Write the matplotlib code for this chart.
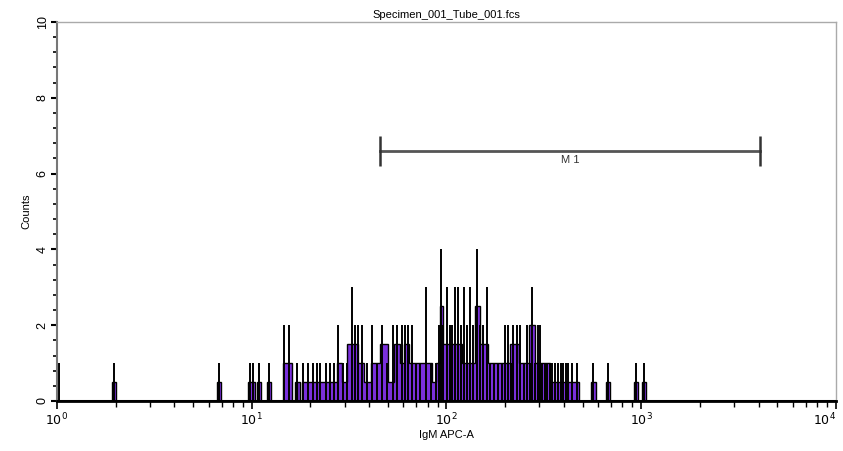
import numpy as np
import matplotlib
matplotlib.use('Agg')
import matplotlib.pyplot as plt
from matplotlib.ticker import LogLocator, NullFormatter, MultipleLocator

plt.rcParams['font.family'] = ['Liberation Sans', 'DejaVu Sans']

# channel numbers (1024 channels over 4 decades) and counts per channel
spike_ch = [0, 3, 75, 213, 254, 258, 266, 279, 298, 305, 315, 323, 330, 337, 342,
            346, 354, 359, 364, 369, 376, 381, 388, 392, 396, 401, 408, 414, 421,
            427, 434, 442, 447, 454, 457, 461, 467, 472, 477, 485, 492, 498, 502,
            505, 507, 513, 517, 519, 523, 527, 531, 535, 539, 543, 547, 552, 556,
            560, 565, 569, 574, 580, 585, 589, 593, 597, 599, 605, 609, 614, 618,
            622, 624, 628, 632, 635, 638, 641, 644, 648, 651, 655, 659, 662, 665,
            669, 672, 677, 684, 705, 724, 761, 772]
spike_counts = [2, 1, 1, 1, 1, 1, 1, 1, 2, 2, 1, 1, 1, 1, 1,
                1, 1, 1, 1, 2, 1, 1, 3, 2, 2, 2, 1, 2, 1,
                2, 1, 2, 2, 2, 2, 2, 2, 1, 1, 3, 1, 1, 2,
                4, 2, 3, 2, 2, 3, 3, 2, 3, 2, 3, 2, 4, 2,
                2, 3, 1, 1, 1, 1, 2, 2, 1, 2, 2, 2, 1, 2,
                1, 3, 1, 2, 2, 1, 1, 1, 1, 1, 1, 1, 1, 1,
                1, 1, 1, 1, 1, 1, 1, 1]

# smoothed (filled) histogram: channel start, channel end, level
fill_start = [72, 210, 251, 263, 276, 297, 313, 316, 322, 368, 375, 381, 396, 404,
              413, 425, 435, 443, 451, 456, 463, 493, 498, 503, 507, 519, 532, 549,
              556, 567, 596, 607, 620, 628, 635, 648, 702, 722, 758, 769]
fill_end = [78, 216, 260, 268, 281, 309, 315, 320, 368, 375, 381, 396, 404, 413,
            425, 435, 443, 451, 456, 463, 493, 498, 503, 507, 519, 532, 549, 556,
            567, 596, 607, 620, 628, 635, 648, 686, 708, 727, 764, 774]
fill_level = [0.5, 0.5, 0.5, 0.5, 0.5, 1.0, 0.5, 0.5, 0.5, 1.0, 0.5, 1.5, 1.0, 0.5,
              1.0, 1.5, 0.5, 1.5, 1.0, 1.5, 1.0, 0.5, 1.0, 2.5, 1.5, 1.5, 1.0, 2.5,
              1.5, 1.0, 1.5, 1.0, 2.0, 1.0, 1.0, 0.5, 0.5, 0.5, 0.5, 0.5]

decades = [1, 10, 100, 1000, 10000]
decade_labels = ['$10^{0}$', '$10^{1}$', '$10^{2}$', '$10^{3}$', '$10^{4}$']

marker_ch = [425, 924]
marker_y = 6.6
marker_label = 'M 1'


def ch_to_val(ch):
    return 10 ** (np.asarray(ch, dtype=float) / 256.0)


fig = plt.figure(figsize=(8.43, 4.51), dpi=100)
ax = fig.add_axes([0.0676, 0.1109, 0.9241, 0.8403])

# build one step outline for the filled histogram (groups of touching segments)
purple = '#7a30dc'
n = len(fill_start)
i = 0
while i < n:
    px, py = [fill_start[i]], [0]
    j = i
    while True:
        px += [fill_start[j], fill_end[j]]
        py += [fill_level[j], fill_level[j]]
        if j + 1 < n and fill_start[j + 1] == fill_end[j]:
            j += 1
        else:
            break
    px.append(fill_end[j])
    py.append(0)
    ax.fill(ch_to_val(px), py, facecolor=purple, edgecolor='black', linewidth=1.0)
    i = j + 1

ax.vlines(ch_to_val(spike_ch), 0, spike_counts, color='black', linewidth=1.4)

# marker M1
mx = ch_to_val(marker_ch)
ax.plot(mx, [marker_y, marker_y], color='#555555', linewidth=2)
ax.vlines(mx, marker_y - 0.4, marker_y + 0.4, color='#333333', linewidth=1.8)
ax.text(np.sqrt(mx[0] * mx[1]), marker_y - 0.12, marker_label, ha='center', va='top',
        fontsize=8, color='#333333')

ax.set_xscale('log')
ax.set_xlim(1, 1e4)
ax.set_ylim(0, 10)
ax.axhline(0, color='black', linewidth=2.2, zorder=5)

ax.set_xticks(decades, decade_labels)
ax.xaxis.set_minor_locator(LogLocator(base=10, subs=np.arange(2, 10), numticks=10))
ax.xaxis.set_minor_formatter(NullFormatter())
ax.yaxis.set_major_locator(MultipleLocator(2))
ax.yaxis.set_minor_locator(MultipleLocator(0.4))

ax.tick_params(axis='x', which='major', direction='out', length=6, width=1.2,
               labelsize=9, colors='black', pad=2)
ax.tick_params(axis='x', which='minor', direction='out', length=4, width=1.0)
ax.tick_params(axis='y', which='major', direction='out', length=4, width=1.5,
               labelsize=9, pad=2)
ax.tick_params(axis='y', which='minor', direction='out', length=3, width=1.2)
for lab in ax.get_yticklabels():
    lab.set_rotation(90)
    lab.set_va('center')
# last decade label sits at the right edge of the figure
ax.get_xticklabels()[-1].set_horizontalalignment('right')

for side in ['top', 'right']:
    ax.spines[side].set_color('#aaaaaa')
    ax.spines[side].set_linewidth(1.0)
ax.spines['left'].set_color('#777777')
ax.spines['left'].set_linewidth(1.5)
ax.spines['bottom'].set_color('black')
ax.spines['bottom'].set_linewidth(2)

ax.set_xlabel('IgM APC-A', fontsize=8, labelpad=1)
ax.set_ylabel('Counts', fontsize=8, labelpad=4)
ax.set_title('Specimen_001_Tube_001.fcs', fontsize=8, pad=3)

fig.savefig('out.png', dpi=100)
